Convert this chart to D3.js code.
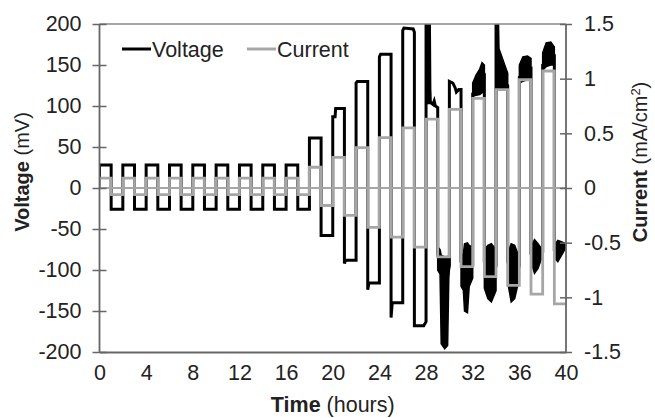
<!DOCTYPE html>
<html>
<head>
<meta charset="utf-8">
<script src="https://cdn.jsdelivr.net/npm/d3@7/dist/d3.min.js"></script>
<style>
  body { margin: 0; background: #fff; }
  text { font-family: "Liberation Sans", Arial, sans-serif; fill: #222; }
</style>
</head>
<body>
<svg id="chart" width="655" height="418"></svg>
<script>
// tick labels
var timeTicks = [0, 4, 8, 12, 16, 20, 24, 28, 32, 36, 40];
var voltTicks = [-200, -150, -100, -50, 0, 50, 100, 150, 200];
var currentTicks = [-1.5, -1, -0.5, 0, 0.5, 1, 1.5];

// current density per 2 h cycle (mA/cm2): 1 h up, 1 h down
var currentUp = [0.09, 0.09, 0.09, 0.09, 0.09, 0.09, 0.09, 0.09, 0.09,
                 0.19, 0.28, 0.37, 0.46, 0.55, 0.63, 0.72, 0.82, 0.90, 0.99, 1.07];
var currentDown = [-0.06, -0.06, -0.06, -0.06, -0.06, -0.06, -0.06, -0.06, -0.06,
                   -0.16, -0.25, -0.36, -0.45, -0.54, -0.63, -0.72, -0.81, -0.89, -0.97, -1.06];

// voltage trace [hours, mV]
var voltageTrace = [
  [0, 0], [0, 28], [1, 28], [1, -26], [2, -26],
  [2, 28], [3, 28], [3, -26], [4, -26],
  [4, 28], [5, 28], [5, -26], [6, -26],
  [6, 28], [7, 28], [7, -26], [8, -26],
  [8, 28], [9, 28], [9, -26], [10, -26],
  [10, 28], [11, 28], [11, -26], [12, -26],
  [12, 28], [13, 28], [13, -26], [14, -26],
  [14, 28], [15, 28], [15, -26], [16, -26],
  [16, 28], [17, 28], [17, -26], [18, -26],
  [18, 61], [19, 61], [19, -58], [20, -58],
  [20, 87], [20.2, 87], [20.25, 97], [21, 97], [21, -92], [21.1, -88], [22, -88],
  [22, 128], [22.1, 130], [23, 130], [23, -124], [23.1, -116], [24, -116],
  [24, 160], [24.1, 163], [25, 163], [25, -158], [25.1, -140], [26, -140],
  [26, 192], [26.1, 195], [26.9, 194], [27, 190], [27, -168], [27.8, -168], [28, -163],
  [28, 205], [28.35, 105], [28.6, 102], [28.7, 106], [28.8, 100], [29, 98], [29, -80],
  [29.3, -100], [29.6, -120], [30, -95],
  [30, 130], [30.3, 128], [30.5, 122], [30.6, 117], [30.8, 120], [31, 120], [31, -90],
  [31.5, -110], [32, -95],
  [32, 115], [32.5, 125], [33, 135], [33, -90], [33.5, -105], [34, -95],
  [34, 205], [34.3, 135], [35, 125], [35, -90], [35.5, -110], [36, -95],
  [36, 135], [37, 145], [37, -80], [37.5, -85], [38, -78],
  [38, 150], [39, 160], [39, -75], [39.5, -75], [40, -70]
];

// noisy stretches of the voltage trace as [hours, low mV, high mV]
var voltageNoise = [
  [[28.0, 103, 215], [28.35, 103, 215], [28.4, 103, 110]],
  [[29.0, -100, -72], [29.2, -105, -75], [29.3, -190, -82], [29.6, -196, -84], [29.85, -192, -84], [29.95, -110, -82], [30.0, -100, -82]],
  [[31.0, -120, -85], [31.2, -125, -80], [31.3, -150, -68], [31.55, -152, -67], [31.7, -120, -70], [32.0, -110, -72]],
  [[32.0, 112, 128], [32.3, 113, 138], [32.6, 114, 145], [32.8, 116, 153], [33.0, 118, 150]],
  [[33.0, -122, -75], [33.3, -135, -70], [33.6, -139, -68], [34.0, -125, -75]],
  [[34.0, 120, 215], [34.2, 120, 212], [34.25, 120, 170], [34.5, 120, 160], [34.8, 120, 148], [35.0, 120, 140]],
  [[35.0, -115, -80], [35.3, -139, -68], [35.6, -135, -70], [36.0, -110, -85]],
  [[36.0, 128, 150], [36.3, 130, 160], [36.7, 132, 161], [37.0, 133, 158]],
  [[37.0, -90, -72], [37.3, -104, -63], [37.6, -98, -68], [38.0, -82, -76]],
  [[38.0, 144, 165], [38.3, 148, 177], [38.7, 150, 178], [39.0, 150, 172]],
  [[39.0, -85, -70], [39.3, -90, -64], [39.7, -80, -66], [40.0, -72, -68]]
];

var seriesNames = ['Voltage', 'Current'];
var seriesColors = ['#000000', '#a6a6a6'];
var fontSize = '21.5px';

var svg = d3.select('#chart');
var padding = { top: 24, right: 89, bottom: 66, left: 99.5 };
var width = +svg.attr('width');
var height = +svg.attr('height');

var xScale = d3.scaleLinear()
                .domain([0, 40])
                .range([padding.left, width - padding.right]);
var yVolt = d3.scaleLinear()
                .domain([-200, 200])
                .range([height - padding.bottom, padding.top]);
var yCurr = d3.scaleLinear()
                .domain([-1.5, 1.5])
                .range([height - padding.bottom, padding.top]);

svg.append('clipPath')
    .attr('id', 'plot-clip')
  .append('rect')
    .attr('x', padding.left)
    .attr('y', padding.top)
    .attr('width', xScale.range()[1] - padding.left)
    .attr('height', yVolt.range()[0] - padding.top);

var plot = svg.append('g').attr('clip-path', 'url(#plot-clip)');

// current step series built from the cycle arrays
var currentSteps = [[0, 0]];
currentUp.forEach(function(up, i) {
    var t = i * 2;
    currentSteps.push([t, up], [t + 1, up], [t + 1, currentDown[i]], [t + 2, currentDown[i]]);
});

// noise bands
var band = d3.area()
    .x(d => xScale(d[0]))
    .y0(d => yVolt(d[1]))
    .y1(d => yVolt(d[2]));

plot.selectAll('.noise')
    .data(voltageNoise)
    .enter()
    .append('path')
        .classed('noise', true)
        .attr('d', band)
        .attr('fill', seriesColors[0])
        .attr('stroke', seriesColors[0])
        .attr('stroke-width', 1.5);

plot.append('path')
    .datum(voltageTrace)
    .attr('fill', 'none')
    .attr('stroke', seriesColors[0])
    .attr('stroke-width', 3)
    .attr('stroke-linejoin', 'miter')
    .attr('d', d3.line().x(d => xScale(d[0])).y(d => yVolt(d[1])));

// zero line of the current axis
plot.append('line')
    .attr('x1', xScale(0))
    .attr('x2', xScale(40))
    .attr('y1', yCurr(0))
    .attr('y2', yCurr(0))
    .attr('stroke', seriesColors[1])
    .attr('stroke-width', 2);

plot.append('path')
    .datum(currentSteps)
    .attr('fill', 'none')
    .attr('stroke', seriesColors[1])
    .attr('stroke-width', 2.8)
    .attr('stroke-linejoin', 'miter')
    .attr('d', d3.line().x(d => xScale(d[0])).y(d => yCurr(d[1])));

// frame
var axisColor = '#666';
svg.append('line')
    .attr('x1', padding.left).attr('x2', xScale(40))
    .attr('y1', padding.top).attr('y2', padding.top)
    .attr('stroke', '#888').attr('stroke-width', 1.5);

var xAxis = svg.append('g')
    .attr('transform', `translate(0, ${yVolt(-200)})`)
    .call(d3.axisBottom(xScale).tickValues(timeTicks).tickSize(0).tickPadding(13).tickFormat(d => String(d)));

var leftAxis = svg.append('g')
    .attr('transform', `translate(${padding.left}, 0)`)
    .call(d3.axisLeft(yVolt).tickValues(voltTicks).tickSize(7).tickPadding(11).tickFormat(d => String(d)));
leftAxis.selectAll('.tick line').attr('x1', 7);

var rightAxis = svg.append('g')
    .attr('transform', `translate(${xScale(40)}, 0)`)
    .call(d3.axisRight(yCurr).tickValues(currentTicks).tickSize(6).tickPadding(12).tickFormat(d => String(d)));
rightAxis.selectAll('.tick line').attr('x1', -6);

[xAxis, leftAxis, rightAxis].forEach(function(a) {
    a.selectAll('.domain').attr('stroke', axisColor).attr('stroke-width', 1.8);
    a.selectAll('.tick line').attr('stroke', axisColor).attr('stroke-width', 1.5);
    a.selectAll('text').style('font-size', fontSize).attr('fill', '#222');
});
leftAxis.select('.domain').attr('d', `M0,${padding.top}V${yVolt(-200)}`);
rightAxis.select('.domain').attr('d', `M0,${padding.top}V${yVolt(-200)}`);

// axis titles
var xTitle = svg.append('text')
    .attr('x', (padding.left + xScale(40)) / 2)
    .attr('y', 412)
    .style('font-size', fontSize)
    .style('text-anchor', 'middle');
xTitle.append('tspan').style('font-weight', 'bold').text('Time');
xTitle.append('tspan').text(' (hours)');

var yTitle = svg.append('text')
    .attr('transform', 'rotate(-90)')
    .attr('x', -172)
    .attr('y', 29)
    .style('font-size', '20px')
    .style('text-anchor', 'middle');
yTitle.append('tspan').style('font-weight', 'bold').text('Voltage');
yTitle.append('tspan').text(' (mV)');

var y2Title = svg.append('text')
    .attr('transform', 'rotate(-90)')
    .attr('x', -162)
    .attr('y', 647)
    .style('font-size', '20px')
    .style('text-anchor', 'middle');
y2Title.append('tspan').style('font-weight', 'bold').text('Current');
y2Title.append('tspan').text(' (mA/cm');
y2Title.append('tspan').attr('dy', -7).style('font-size', '13px').text('2');
y2Title.append('tspan').attr('dy', 7).text(')');

// legend
var legendX = [122, 247];
var legend = svg.selectAll('.legend')
    .data(seriesNames)
    .enter()
    .append('g')
        .classed('legend', true)
        .attr('transform', (d, i) => `translate(${legendX[i]}, 49)`);
legend.append('line')
    .attr('x1', 0).attr('x2', 29)
    .attr('stroke', (d, i) => seriesColors[i])
    .attr('stroke-width', 3);
legend.append('text')
    .attr('x', 30)
    .attr('dy', '0.35em')
    .style('font-size', fontSize)
    .text(d => d);
</script>
</body>
</html>
